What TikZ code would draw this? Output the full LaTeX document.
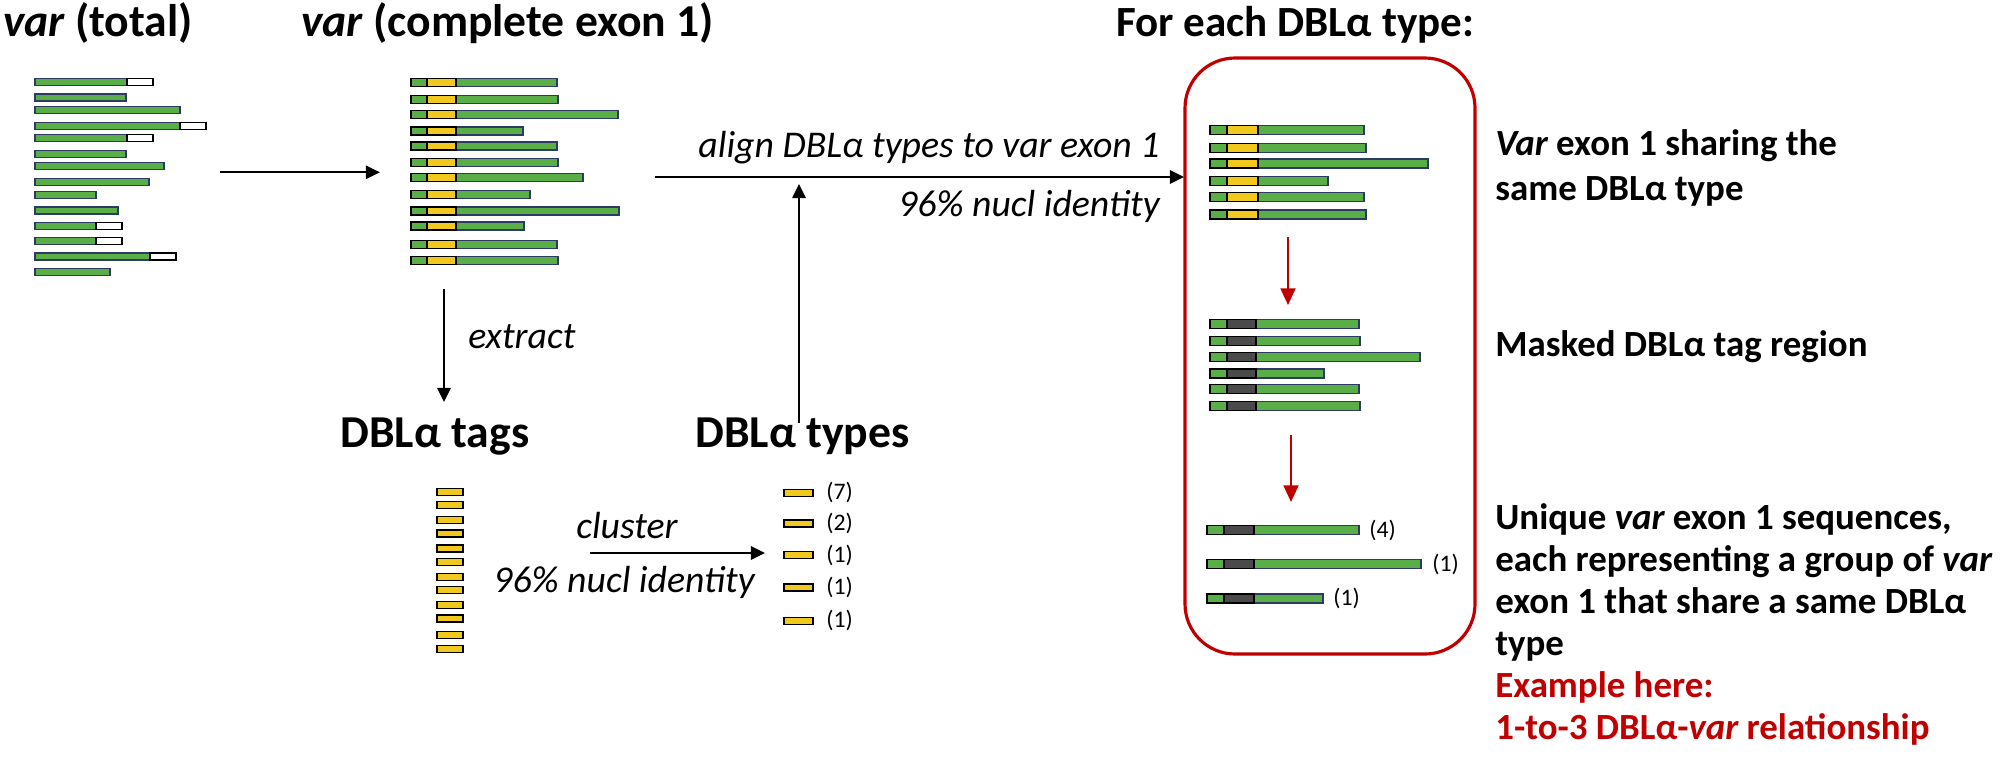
\documentclass[tikz,border=0pt]{standalone}
\usepackage{fontspec}
\setmainfont{Carlito}
\usetikzlibrary{arrows.meta}
\definecolor{bargreen}{HTML}{5AAE47}
\definecolor{barnavy}{HTML}{2E3A66}
\definecolor{baryellow}{HTML}{F0C81E}
\definecolor{bargrey}{HTML}{4A4A4A}
\definecolor{boxred}{HTML}{C00000}
\tikzset{
  title/.style={font=\fontsize{26}{30}\selectfont\bfseries, anchor=base west, inner sep=0},
  lab/.style={font=\fontsize{21.5}{26}\selectfont\itshape, inner sep=0},
  desc/.style={font=\fontsize{21}{25}\selectfont\bfseries, anchor=base west, inner sep=0},
  cnt/.style={font=\fontsize{13.5}{16}\selectfont, anchor=west, inner sep=0},
  flow/.style={line width=1.3pt, -{Triangle[length=8pt,width=7.5pt]}},
  redflow/.style={line width=1.2pt, draw=boxred, -{Triangle[length=9.5pt,width=8.5pt,fill=boxred]}},
  gpart/.style={fill=bargreen, draw=barnavy, line width=0.8pt},
  kpart/.style={draw=black, line width=0.8pt},
}
\newcommand\gbar[3]{\filldraw[gpart] (#1,{#3-3.5}) rectangle (#2,{#3+3.5});}
\newcommand\gwbar[4]{\filldraw[gpart] (#1,{#4-3.5}) rectangle (#2,{#4+3.5});
  \filldraw[kpart,fill=white] (#2,{#4-3.5}) rectangle (#3,{#4+3.5});}
\newcommand\exbar[7]{%
  \filldraw[gpart] (#3,{#5-#6}) rectangle (#4,{#5+#6});
  \filldraw[kpart,fill=bargreen] (#1,{#5-#6}) rectangle (#2,{#5+#6});
  \filldraw[kpart,fill=#7] (#2,{#5-#6}) rectangle (#3,{#5+#6});}
\newcommand\ybar[3]{\filldraw[kpart,fill=baryellow] (#1,{#3-3.5}) rectangle (#2,{#3+3.5});}
\begin{document}
\begin{tikzpicture}[x=0.02cm,y=-0.02cm]
\useasboundingbox (0,0) rectangle (2014,765);
% titles
\node[title] (t1) at (3,36) {\itshape var\upshape\ (total)};
\node[title] (t2) at (301,36) {\itshape var\upshape\ (complete exon 1)};
\node[title, font=\fontsize{24.5}{29}\selectfont\bfseries] (t3) at (1116,36) {For each DBLα type:};
\node[title] (t4) at (340,447) {DBLα tags};
\node[title] (t5) at (695,447) {DBLα types};
% var total bars
\gwbar{35}{127}{153}{81.7}
\gbar{35}{126}{97.3}
\gbar{35}{180}{110}
\gwbar{35}{180}{206}{125.7}
\gwbar{35}{127}{153}{138}
\gbar{35}{126}{154}
\gbar{35}{164}{166}
\gbar{35}{149}{182}
\gbar{35}{96}{194.7}
\gbar{35}{118}{210.3}
\gwbar{35}{96}{122}{225.7}
\gwbar{35}{96}{122}{240.7}
\gwbar{35}{150}{176}{256.3}
\gbar{35}{110}{272}
% complete exon 1 bars
\foreach \e/\y in {557/82.7,558/99.3,618/114.3,523/131,557/146,558/162.7,583/177.7,530/194.3,619/211,524/226,557/244.3,558/260.3}
  {\exbar{411}{427}{456}{\e}{\y}{4}{baryellow}}
% tags
\foreach \y in {491.7,505,520,533.3,548.3,561.7,576.7,590,605,618.3,635,649}
  {\ybar{437}{463}{\y}}
% types
\foreach \y/\c [count=\i] in {492.7/7,523.3/2,555/1,587.3/1,620.7/1}{
  \ybar{784}{813}{\y}
  \node[cnt] (c\i) at (826,\y) {(\c)};}
% red box
\draw[boxred, line width=1.8pt, rounded corners=50*0.02cm] (1185,58) rectangle (1475,654);
\foreach \e/\y in {1364/130,1366/147.7,1428/163.3,1328/180.7,1364/196.7,1366/214.3}
  {\exbar{1210}{1227}{1258}{\e}{\y}{4.5}{baryellow}}
\foreach \e/\y in {1359/324,1360/341,1420/356.7,1324/373.3,1359/389,1360/405.7}
  {\exbar{1210}{1227}{1256}{\e}{\y}{4.5}{bargrey}}
\exbar{1207}{1224}{1254}{1359}{530}{4.5}{bargrey}
\exbar{1207}{1224}{1254}{1421}{564}{4.5}{bargrey}
\exbar{1207}{1224}{1254}{1323}{598.3}{4.5}{bargrey}
\node[cnt] (u1) at (1369,530) {(4)};
\node[cnt] (u2) at (1432,564) {(1)};
\node[cnt] (u3) at (1333,598.3) {(1)};
% coordinates for connectors
\coordinate (a1s) at (220,172.3);
\coordinate (a1e) at (380,172.3);
\coordinate (exs) at (444,289);
\coordinate (exe) at (444,402);
\coordinate (cls) at (590,553);
\coordinate (cle) at (765,553);
\coordinate (ups) at (799,423);
\coordinate (upe) at (799,184);
\coordinate (als) at (655,177);
\coordinate (ale) at (1184,177);
\coordinate (r1s) at (1288,237);
\coordinate (r1e) at (1288,305);
\coordinate (r2s) at (1291,435);
\coordinate (r2e) at (1291,502);
% arrows
\draw[flow] (a1s) -- (a1e);
\draw[flow] (exs) -- (exe);
\draw[flow] (cls) -- (cle);
\draw[flow] (ups) -- (upe);
\draw[flow] (als) -- (ale);
\draw[redflow] (r1s) -- (r1e);
\draw[redflow] (r2s) -- (r2e);
% labels
\node[lab, anchor=west] (lx) at (468,337) {extract};
\node[lab, anchor=base] (lc) at (627,538) {cluster};
\node[lab, anchor=base west] (ln1) at (493,592) {96\% nucl identity};
\node[lab, anchor=base east] (la) at (1160,157) {align DBLα types to var exon 1};
\node[lab, anchor=base east] (ln2) at (1160,216) {96\% nucl identity};
% right descriptions
\node[desc] (d1) at (1495,155) {\itshape Var\upshape\ exon 1 sharing the};
\node[desc] (d2) at (1495,200) {same DBLα type};
\node[desc] (d3) at (1495,356) {Masked DBLα tag region};
\node[desc] (d4) at (1495,529) {Unique \itshape var\upshape\ exon 1 sequences,};
\node[desc] (d5) at (1495,571) {each representing a group of \itshape var};
\node[desc] (d6) at (1495,613) {exon 1 that share a same DBLα};
\node[desc] (d7) at (1495,655) {type};
\node[desc, text=boxred] (d8) at (1495,697) {Example here:};
\node[desc, text=boxred] (d9) at (1495,739) {1-to-3 DBLα-\itshape var\upshape\ relationship};
\end{tikzpicture}
\end{document}
